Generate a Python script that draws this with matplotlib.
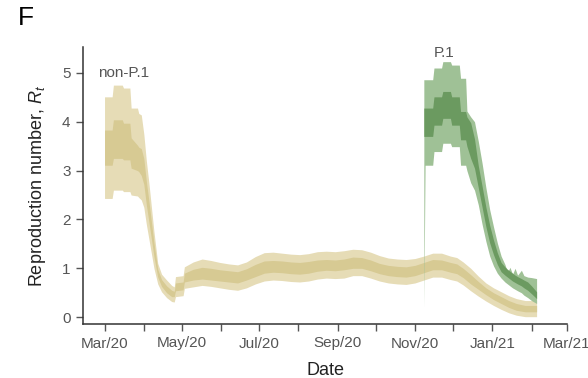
import numpy as np
import pandas as pd
import matplotlib
matplotlib.use("Agg")
import matplotlib.pyplot as plt

plt.rcParams["font.family"] = ["Liberation Sans", "DejaVu Sans"]
plt.rcParams["mathtext.fontset"] = "custom"
plt.rcParams["mathtext.rm"] = "Liberation Sans"
plt.rcParams["mathtext.it"] = "Liberation Sans:italic"

# ---- non-P.1 lineage: Rt credible intervals (95% outer, 50% inner) ----
nonp1_dates = [
    "2020-03-01", "2020-03-07", "2020-03-08", "2020-03-15", "2020-03-16",
    "2020-03-21", "2020-03-22", "2020-03-27", "2020-03-28", "2020-03-30",
    "2020-04-01", "2020-04-03", "2020-04-05", "2020-04-07", "2020-04-09",
    "2020-04-12", "2020-04-15", "2020-04-19", "2020-04-23", "2020-04-25",
    "2020-04-26", "2020-05-02", "2020-05-03", "2020-05-10", "2020-05-17",
    "2020-05-24", "2020-05-31", "2020-06-07", "2020-06-14", "2020-06-21",
    "2020-06-28", "2020-07-05", "2020-07-12", "2020-07-19", "2020-07-26",
    "2020-08-02", "2020-08-09", "2020-08-16", "2020-08-23", "2020-08-30",
    "2020-09-06", "2020-09-13", "2020-09-20", "2020-09-27", "2020-10-04",
    "2020-10-11", "2020-10-18", "2020-10-25", "2020-11-01", "2020-11-08",
    "2020-11-15", "2020-11-22", "2020-11-29", "2020-12-04", "2020-12-09",
    "2020-12-15", "2020-12-21", "2020-12-27", "2021-01-02", "2021-01-08",
    "2021-01-14", "2021-01-20", "2021-01-27", "2021-02-05",
]
nonp1_lo95 = [2.43, 2.43, 2.60, 2.60, 2.57, 2.57, 2.50, 2.48, 2.45, 2.40,
              2.25, 1.90, 1.60, 1.30, 1.00, 0.68, 0.52, 0.40, 0.32, 0.31,
              0.42, 0.44, 0.59, 0.62, 0.65, 0.63, 0.60, 0.57, 0.55, 0.60,
              0.68, 0.74, 0.76, 0.75, 0.73, 0.72, 0.74, 0.78, 0.80, 0.79,
              0.80, 0.85, 0.85, 0.80, 0.74, 0.70, 0.68, 0.67, 0.70, 0.76,
              0.82, 0.82, 0.77, 0.74, 0.66, 0.54, 0.43, 0.33, 0.24, 0.16,
              0.09, 0.04, 0.01, 0.01]
nonp1_lo50 = [3.11, 3.11, 3.25, 3.25, 3.22, 3.22, 3.05, 3.00, 2.98, 2.90,
              2.72, 2.30, 1.95, 1.60, 1.24, 0.82, 0.63, 0.50, 0.42, 0.42,
              0.54, 0.56, 0.72, 0.76, 0.78, 0.76, 0.74, 0.72, 0.70, 0.76,
              0.83, 0.90, 0.92, 0.91, 0.89, 0.88, 0.90, 0.94, 0.96, 0.95,
              0.97, 1.00, 1.00, 0.95, 0.89, 0.85, 0.83, 0.82, 0.85, 0.91,
              0.97, 0.97, 0.92, 0.89, 0.81, 0.68, 0.57, 0.46, 0.36, 0.28,
              0.20, 0.14, 0.11, 0.11]
nonp1_hi50 = [3.83, 3.83, 4.04, 4.04, 3.97, 3.97, 3.67, 3.52, 3.48, 3.45,
              3.25, 2.78, 2.38, 1.95, 1.52, 0.98, 0.77, 0.64, 0.55, 0.53,
              0.70, 0.72, 0.90, 0.98, 1.02, 1.00, 0.97, 0.95, 0.93, 0.99,
              1.08, 1.15, 1.16, 1.15, 1.13, 1.12, 1.14, 1.17, 1.18, 1.17,
              1.19, 1.23, 1.22, 1.17, 1.10, 1.06, 1.04, 1.03, 1.06, 1.12,
              1.18, 1.17, 1.12, 1.09, 1.00, 0.87, 0.73, 0.60, 0.50, 0.42,
              0.34, 0.28, 0.24, 0.24]
nonp1_hi95 = [4.51, 4.51, 4.75, 4.75, 4.69, 4.69, 4.28, 4.28, 4.17, 4.14,
              3.75, 3.20, 2.75, 2.25, 1.75, 1.10, 0.88, 0.76, 0.65, 0.62,
              0.83, 0.85, 1.03, 1.13, 1.19, 1.16, 1.12, 1.09, 1.07, 1.13,
              1.24, 1.32, 1.33, 1.31, 1.29, 1.28, 1.30, 1.34, 1.35, 1.34,
              1.36, 1.39, 1.38, 1.33, 1.26, 1.21, 1.19, 1.18, 1.20, 1.25,
              1.31, 1.31, 1.25, 1.22, 1.13, 1.00, 0.84, 0.70, 0.60, 0.52,
              0.44, 0.38, 0.34, 0.34]

# ---- P.1 lineage ----
p1_dates = [
    "2020-11-08", "2020-11-09", "2020-11-15", "2020-11-16", "2020-11-22",
    "2020-11-23", "2020-11-29", "2020-11-30", "2020-12-06", "2020-12-07",
    "2020-12-11", "2020-12-12", "2020-12-15", "2020-12-18", "2020-12-21",
    "2020-12-24", "2020-12-27", "2020-12-30", "2021-01-02", "2021-01-05",
    "2021-01-08", "2021-01-11", "2021-01-13", "2021-01-15", "2021-01-17",
    "2021-01-19", "2021-01-21", "2021-01-24", "2021-01-26", "2021-01-29",
    "2021-02-01", "2021-02-05",
]
p1_lo95 = [0.20, 3.11, 3.11, 3.39, 3.39, 3.56, 3.56, 3.49, 3.49, 3.11,
           3.11, 3.00, 2.75, 2.60, 2.30, 1.90, 1.55, 1.25, 1.05, 0.90,
           0.80, 0.72, 0.68, 0.64, 0.60, 0.57, 0.54, 0.50, 0.45, 0.40,
           0.34, 0.28]
p1_lo50 = [3.70, 3.70, 3.70, 3.93, 3.93, 4.07, 4.07, 3.93, 3.93, 3.63,
           3.63, 3.50, 3.25, 3.05, 2.65, 2.25, 1.85, 1.52, 1.28, 1.08,
           0.93, 0.86, 0.82, 0.78, 0.74, 0.71, 0.68, 0.64, 0.60, 0.55,
           0.48, 0.38]
p1_hi50 = [4.28, 4.28, 4.28, 4.51, 4.51, 4.62, 4.62, 4.51, 4.51, 4.21,
           4.21, 4.10, 3.98, 3.65, 3.10, 2.68, 2.25, 1.88, 1.58, 1.32,
           1.12, 1.03, 0.98, 0.94, 0.90, 0.86, 0.83, 0.79, 0.76, 0.72,
           0.64, 0.52]
p1_hi95 = [4.86, 4.86, 4.86, 5.10, 5.10, 5.23, 5.23, 5.16, 5.16, 4.89,
           4.89, 4.22, 4.10, 4.00, 3.60, 3.15, 2.65, 2.20, 1.85, 1.52,
           1.25, 1.08, 0.92, 1.02, 0.88, 1.00, 0.86, 0.96, 0.85, 0.82,
           0.81, 0.79]

# ---- axis labels ----
y_ticks = [0, 1, 2, 3, 4, 5]
month_ticks = pd.date_range("2020-03-01", "2021-03-01", freq="MS")
labelled_months = ["Mar/20", "May/20", "Jul/20", "Sep/20", "Nov/20", "Jan/21", "Mar/21"]

TAN_LIGHT, TAN_DARK = "#e6dcb6", "#d7ca93"
GREEN_LIGHT, GREEN_DARK = "#9fc196", "#6b9a60"


def band(ax, dates, lo95, lo50, hi50, hi95, light, dark):
    x = pd.to_datetime(dates)
    ax.fill_between(x, lo95, hi95, color=light, lw=0)
    ax.fill_between(x, lo50, hi50, color=dark, lw=0)


fig = plt.figure(figsize=(5.88, 3.78), dpi=100)
ax = fig.add_axes([83 / 588, 1 - 324 / 378, (567 - 83) / 588, (324 - 47) / 378])

band(ax, nonp1_dates, nonp1_lo95, nonp1_lo50, nonp1_hi50, nonp1_hi95,
     TAN_LIGHT, TAN_DARK)
band(ax, p1_dates, p1_lo95, p1_lo50, p1_hi50, p1_hi95,
     GREEN_LIGHT, GREEN_DARK)

ax.set_xlim(pd.Timestamp("2020-02-13"), pd.Timestamp("2021-03-01"))
ax.set_ylim(-0.14, 5.53)

ax.set_yticks(y_ticks)
ax.set_xticks(month_ticks)
ax.set_xticklabels([m.strftime("%b/%y") if m.strftime("%b/%y") in labelled_months else ""
                    for m in month_ticks])

for side in ("top", "right"):
    ax.spines[side].set_visible(False)
for side in ("left", "bottom"):
    ax.spines[side].set_color("#333333")
    ax.spines[side].set_linewidth(1.1)
ax.tick_params(axis="both", direction="out", length=5, width=1.0, color="#555555",
               labelcolor="#555555", labelsize=11, pad=4)

ax.set_xlabel("Date", fontsize=13, color="#222222", labelpad=8)
ax.set_ylabel("Reproduction number, $R_t$", fontsize=13, color="#222222", labelpad=10)

ax.text(pd.Timestamp("2020-03-16"), 5.0, "non-P.1", fontsize=11, color="#555555",
        ha="center", va="center")
ax.text(pd.Timestamp("2020-11-24"), 5.40, "P.1", fontsize=11, color="#555555",
        ha="center", va="center")

fig.text(18 / 588, 1 - 18 / 378, "F", fontsize=19, color="black", ha="left", va="center")

fig.savefig("out.png", dpi=100)
